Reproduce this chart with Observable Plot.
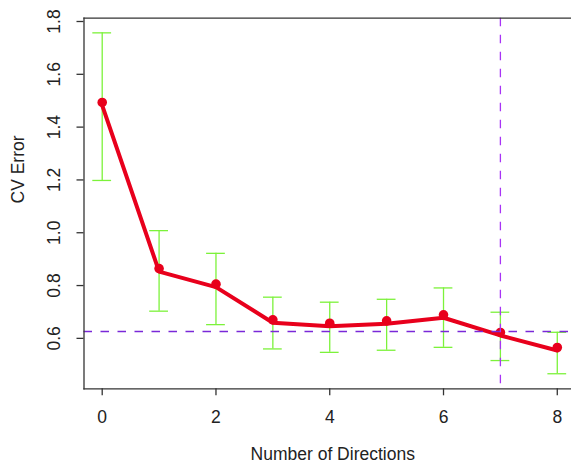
<!DOCTYPE html>
<html>
<head>
<meta charset="utf-8">
<script src="https://cdn.jsdelivr.net/npm/d3@7"></script>
<script src="https://cdn.jsdelivr.net/npm/@observablehq/plot@0.6"></script>
<style>
  html, body { margin: 0; padding: 0; background: #fff; }
  #chart svg { display: block; font-family: "Liberation Sans", Arial, sans-serif; }
</style>
</head>
<body>
<div id="chart"></div>
<script>
// Number of directions (x)
const directions = [0, 1, 2, 3, 4, 5, 6, 7, 8];
// CV error (mean) and error-bar bounds
const cvError = [1.482, 0.853, 0.794, 0.659, 0.646, 0.655, 0.678, 0.611, 0.554];
const cvUpper = [1.757, 1.008, 0.922, 0.756, 0.737, 0.748, 0.791, 0.699, 0.623];
const cvLower = [1.198, 0.703, 0.652, 0.560, 0.547, 0.555, 0.566, 0.516, 0.466];
// reference lines
const hLine = [0.626];
const vLine = [7];
// tick values
const xTicks = [0, 2, 4, 6, 8];
const yTicks = [0.6, 0.8, 1.0, 1.2, 1.4, 1.6, 1.8];

const data = directions.map((d, i) => ({x: d, y: cvError[i], lo: cvLower[i], hi: cvUpper[i]}));
const capHalf = 0.165;

const W = 571, H = 463, ML = 83.5, MR = 0, MT = 17.7, MB = 74.7;
const xDomain = [-0.32, 8.25];
const pxPerX = (W - ML - MR) / (xDomain[1] - xDomain[0]);
const tickLen = 7 / pxPerX; // 7px outward tick, in x units
const red = "#e8001c";
const green = "#7cf23a";
const axisColor = "#333";
const fs = 17.5;

const chart = Plot.plot({
  width: W,
  height: H,
  marginLeft: ML,
  marginRight: MR,
  marginTop: MT,
  marginBottom: MB,
  style: {background: "#fff", color: "#222", fontFamily: "'Liberation Sans', Arial, sans-serif"},
  x: {domain: xDomain, axis: null},
  y: {domain: [0.409, 1.8125], axis: null},
  marks: [
    // error bars
    Plot.ruleX(data, {x: "x", y1: "lo", y2: "hi", stroke: green, strokeWidth: 1.3}),
    Plot.ruleY(data, {y: "hi", x1: d => d.x - capHalf, x2: d => d.x + capHalf, stroke: green, strokeWidth: 1.3}),
    Plot.ruleY(data, {y: "lo", x1: d => d.x - capHalf, x2: d => d.x + capHalf, stroke: green, strokeWidth: 1.3}),
    // mean line and points
    Plot.line(data, {x: "x", y: "y", stroke: red, strokeWidth: 4, strokeLinejoin: "round"}),
    Plot.dot(data, {x: "x", y: "y", r: 4.8, fill: red, dy: -3}),
    // reference lines
    Plot.ruleY(hLine, {stroke: "#7a28d8", strokeWidth: 1.3, strokeDasharray: "8.5,8.5"}),
    Plot.ruleX(vLine, {stroke: "#a833f5", strokeWidth: 1.3, strokeDasharray: "8.5,8.5"}),
    // box (left, top, bottom)
    Plot.frame({anchor: "left", stroke: axisColor, strokeWidth: 1.3}),
    Plot.frame({anchor: "top", stroke: axisColor, strokeWidth: 1.3}),
    Plot.frame({anchor: "bottom", stroke: axisColor, strokeWidth: 1.3}),
    // axes
    Plot.axisX({ticks: xTicks, tickSize: 7, tickPadding: 15, fontSize: fs, stroke: axisColor, strokeWidth: 1.3, label: null, tickFormat: d => String(d)}),
    Plot.ruleY(yTicks, {y: d => d, x1: xDomain[0] - tickLen, x2: xDomain[0], stroke: axisColor, strokeWidth: 1.3}),
    Plot.axisY({ticks: yTicks, tickSize: 0, tickPadding: 29.5, rotate: -90, textAnchor: "middle", fontSize: fs, label: null, tickFormat: d => d.toFixed(1)}),
    // titles
    Plot.text(["Number of Directions"], {frameAnchor: "bottom", dy: 66, dx: 5, fontSize: fs, fill: "#222", lineAnchor: "middle"}),
    Plot.text(["CV Error"], {frameAnchor: "left", dx: -65.5, rotate: -90, fontSize: fs, fill: "#222", lineAnchor: "middle"})
  ]
});

document.getElementById("chart").appendChild(chart);
</script>
</body>
</html>
